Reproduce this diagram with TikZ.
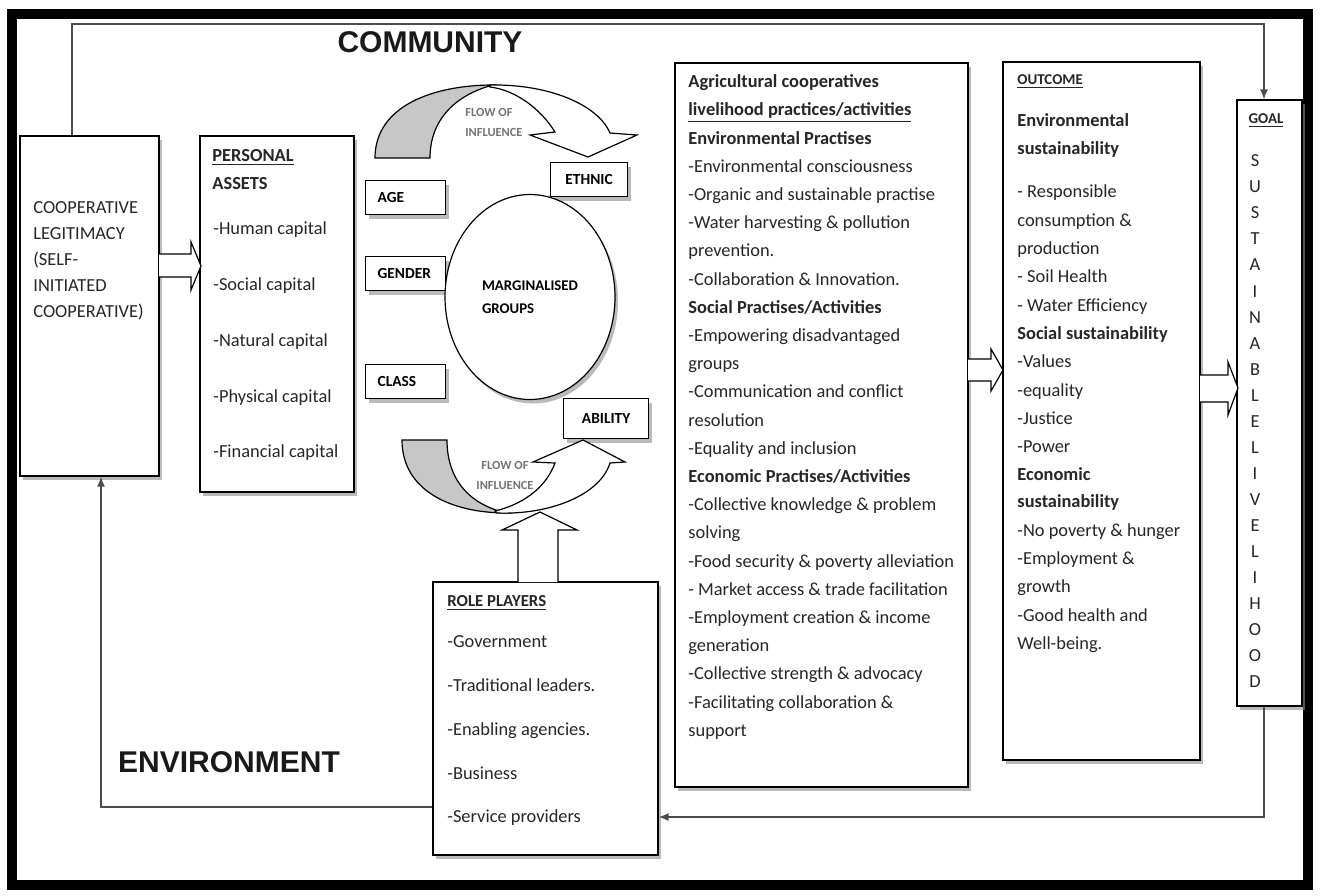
\documentclass[tikz,border=0pt]{standalone}
\usepackage{fontspec}
\setmainfont{Carlito}
\newfontfamily\headfont{Liberation Sans}
\usetikzlibrary{positioning,fit,shapes.geometric,shadows,arrows.meta}

\tikzset{
  box/.style={draw, line width=0.6pt, fill=white, inner sep=0pt,
    drop shadow={shadow xshift=1.5pt, shadow yshift=-2pt, fill=black!45, opacity=0.6}},
  item/.style={anchor=mid west, inner sep=0pt, text=black!85,
    font=\fontsize{9.2}{11}\selectfont},
  tag/.style={box, anchor=north west, inner xsep=6pt, inner ysep=0pt,
    minimum height=17pt, text width=28pt, align=left,
    font=\fontsize{7.7}{9}\selectfont\bfseries},
  hollow/.style={draw, line width=0.6pt, fill=white},
  link/.style={draw=black!70, line width=0.7pt, -{Latex[length=5pt,width=4pt]}},
  head/.style={font=\headfont\fontsize{15}{18}\selectfont\bfseries, text=black!90},
  flow/.style={inner sep=0pt, text=black!55, font=\fontsize{6.2}{10}\selectfont\bfseries},
}

\begin{document}
\begin{tikzpicture}[x=0.5pt, y=-0.5pt]
    \useasboundingbox (0,0) rectangle (1321,895);
    \draw[line width=5pt] (12,14) rectangle (1308,885);

    % titles
    \node[head] (community) at (430,42) {COMMUNITY};
    \node[head] (environment) at (229,762) {ENVIRONMENT};

    % main boxes
    \node[box, fit={(20,136) (159,476)}] (coop) {};
    \node[box, fit={(200,136) (354,492)}] (assets) {};
    \node[box, fit={(675,63) (968,787)}] (agri) {};
    \node[box, fit={(1003,62) (1200,760)}] (outcome) {};
    \node[box, fit={(1237,100) (1302,706)}] (goal) {};
    \node[box, fit={(433,582) (658,855)}] (role) {};

    % groups
    \foreach \n/\y/\t in {age/180/AGE, gender/256/GENDER, class/364/CLASS}{
        \node[tag] (\n) at (365,\y) {\t};
    }
    \node[tag, text width=26.5pt, align=center] (ethnic) at (550,162) {ETHNIC};
    \node[tag, text width=30.5pt, minimum height=20pt, align=center] (ability) at (563,398) {ABILITY};
    \node[box, ellipse, minimum width=85pt, minimum height=102.5pt, align=left,
        font=\fontsize{7.4}{11.5}\selectfont\bfseries] (marg) at (530,297) {MARGINALISED\\GROUPS};

    % flow of influence
    \draw[hollow, fill=black!22] (375,158) .. controls (375,105) and (435,85) .. (493,85)
        .. controls (455,95) and (430,120) .. (430,158) -- cycle;
    \draw[hollow] (490,85) .. controls (550,84) and (598,105) .. (610,133) -- (637,135) -- (588,157)
        -- (530,135) -- (555,132) .. controls (540,108) and (515,90) .. (490,87) -- cycle;
    \draw[hollow, fill=black!22] (402,440) .. controls (402,490) and (450,513) .. (507,513)
        .. controls (470,505) and (447,480) .. (447,440) -- cycle;
    \draw[hollow] (497,513) .. controls (550,515) and (600,495) .. (610,463) -- (625,462) -- (583,440)
        -- (533,462) -- (555,463) .. controls (545,490) and (520,505) .. (495,511) -- cycle;
    \node[flow, align=left, anchor=west] (flowtop) at (465,122) {FLOW OF\\INFLUENCE};
    \node[flow, align=center] (flowbottom) at (505,475) {FLOW OF\\INFLUENCE};

    % block arrows
    \draw[hollow] (518,582) -- (518,530) -- (502,530) -- (540,512) -- (577,530) -- (558,530) -- (558,582);
    \draw[hollow] (159,254) -- (191,254) -- (191,242) -- (201,266) -- (191,290) -- (191,277) -- (159,277);
    \draw[hollow] (968,359) -- (991,359) -- (991,349) -- (1003,370) -- (991,391) -- (991,381) -- (968,381);
    \draw[hollow] (1200,375) -- (1228,375) -- (1228,362) -- (1238,388) -- (1228,415) -- (1228,402) -- (1200,402);

    % box texts
    \foreach \t [count=\i] in {COOPERATIVE, LEGITIMACY, {(SELF-}, INITIATED, {COOPERATIVE)}}{
        \node[item] (coop\i) at (33,{209+26*(\i-1)}) {\t};
    }

    \node[item, font=\fontsize{9.2}{11}\selectfont\bfseries] (assets0) at (212,157) {\underline{PERSONAL}};
    \node[item, font=\fontsize{9.2}{11}\selectfont\bfseries] (assets00) at (212,185) {ASSETS};
    \foreach \t [count=\i] in {Human, Social, Natural, Physical, Financial}{
        \node[item] (assets\i) at (213,{230+55.75*(\i-1)}) {-\t\ capital};
    }

    \foreach \t [count=\i] in {
        {\bfseries Agricultural cooperatives},
        {\bfseries\underline{livelihood practices/activities}},
        {\bfseries Environmental Practises},
        -Environmental consciousness,
        -Organic and sustainable practise,
        -Water harvesting \& pollution,
        prevention.,
        -Collaboration \& Innovation.,
        {\bfseries Social Practises/Activities},
        -Empowering disadvantaged,
        groups,
        -Communication and conflict,
        resolution,
        -Equality and inclusion,
        {\bfseries Economic Practises/Activities},
        -Collective knowledge \& problem,
        solving,
        -Food security \& poverty alleviation,
        - Market access \& trade facilitation,
        -Employment creation \& income,
        generation,
        -Collective strength \& advocacy,
        -Facilitating collaboration \&,
        support}{
        \node[item] (agri\i) at (688,{83+28.2*(\i-1)}) {\t};
    }

    \foreach \y/\t in {80/{\fontsize{7.5}{9}\selectfont\bfseries\underline{OUTCOME}},
        122/{\bfseries Environmental}, 150/{\bfseries sustainability},
        193/- Responsible, 222/consumption \&, 250/production, 278/- Soil Health,
        307/- Water Efficiency, 335/{\bfseries Social sustainability}, 363/-Values,
        392/-equality, 420/-Justice, 448/-Power, 476/{\bfseries Economic},
        503/{\bfseries sustainability}, 532/-No poverty \& hunger, 560/-Employment \&,
        588/growth, 617/-Good health and, 645/Well-being.}{
        \node[item] (out\y) at (1017,\y) {\t};
    }

    \node[item, anchor=mid, font=\fontsize{7.5}{9}\selectfont\bfseries] (goal0) at (1266,119) {\underline{GOAL}};
    \foreach \l [count=\i] in {S,U,S,T,A,I,N,A,B,L,E,L,I,V,E,L,I,H,O,O,D}{
        \node[item, anchor=mid] (goal\i) at (1255,{162+26.05*(\i-1)}) {\l};
    }

    \node[item, font=\fontsize{8.4}{10}\selectfont\bfseries] (role0) at (447,602) {\underline{ROLE PLAYERS}};
    \foreach \t [count=\i] in {Government, Traditional leaders., Enabling agencies., Business, Service providers}{
        \node[item] (role\i) at (447,{643+43.75*(\i-1)}) {-\t};
    }

    % feedback lines
    \coordinate (topleft) at (72,24);
    \coordinate (topright) at (1264,24);
    \coordinate (bottomright) at (1264,817);
    \coordinate (bottomleft) at (101,807);
    \draw[link] (topleft |- coop.north) -- (topleft) -- (topright) -- (topright |- goal.north);
    \draw[link] (bottomright |- goal.south) -- (bottomright) -- (bottomright -| role.east);
    \draw[link] (bottomleft -| role.west) -- (bottomleft) -- (bottomleft |- coop.south);
\end{tikzpicture}
\end{document}
